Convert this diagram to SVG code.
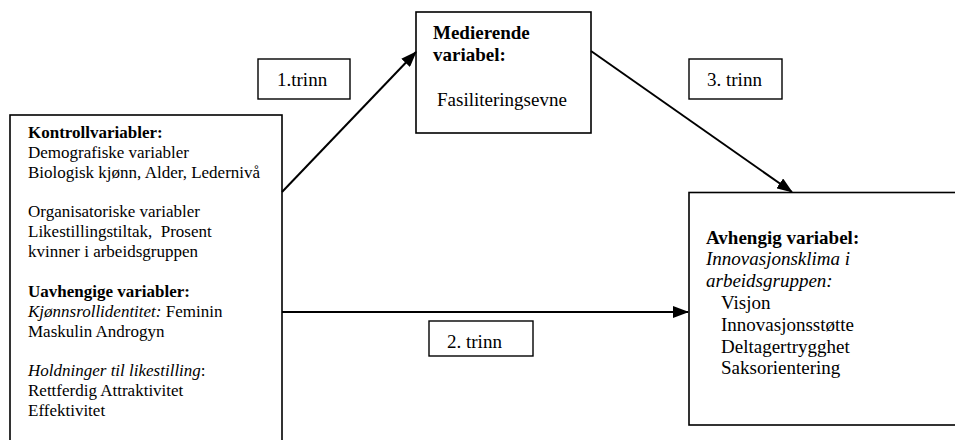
<svg xmlns="http://www.w3.org/2000/svg" width="955" height="440" viewBox="0 0 955 440">
<style>
  .box { fill: #fff; stroke: #000; stroke-width: 1.6; }
  .lbl { fill: #fff; stroke: #000; stroke-width: 1.4; }
  text { font-family: "Liberation Serif", "Times New Roman", serif; fill: #000; }
  .s17 { font-size: 17px; }
  .s19 { font-size: 19px; }
  .b { font-weight: bold; }
  .i { font-style: italic; }
  .conn { stroke: #000; stroke-width: 2; fill: none; marker-end: url(#ah); }
</style>
<defs>
  <marker id="ah" markerUnits="userSpaceOnUse" markerWidth="16" markerHeight="12" refX="15" refY="6" orient="auto">
    <path d="M0,0 L16,6 L0,12 Z" fill="#000"/>
  </marker>
</defs>
<rect width="955" height="440" fill="#fff"/>

<g id="left">
  <rect class="box" x="10" y="115" width="272" height="340"/>
  <text class="s17" x="28">
    <tspan class="b" x="28" y="138">Kontrollvariabler:</tspan>
    <tspan x="28" y="157.9">Demografiske variabler</tspan>
    <tspan x="28" y="177.7">Biologisk kjønn, Alder, Ledernivå</tspan>
    <tspan x="28" y="217.4">Organisatoriske variabler</tspan>
    <tspan x="28" y="237.3" xml:space="preserve">Likestillingstiltak,  Prosent</tspan>
    <tspan x="28" y="257.1">kvinner i arbeidsgruppen</tspan>
    <tspan class="b" x="28" y="296.8">Uavhengige variabler:</tspan>
    <tspan x="28" y="316.7"><tspan class="i">Kjønnsrollidentitet:</tspan> Feminin</tspan>
    <tspan x="28" y="336.5">Maskulin Androgyn</tspan>
    <tspan x="28" y="376.2"><tspan class="i">Holdninger til likestilling</tspan>:</tspan>
    <tspan x="28" y="396.1">Rettferdig Attraktivitet</tspan>
    <tspan x="28" y="415.9">Effektivitet</tspan>
  </text>
</g>

<g id="mediator">
  <rect class="box" x="416" y="12" width="175" height="121"/>
  <text class="s19 b" x="433" y="38.5">Medierende</text>
  <text class="s19 b" x="433" y="60.5">variabel:</text>
  <text class="s19" x="437" y="106">Fasiliteringsevne</text>
</g>

<g id="dependent">
  <rect class="box" x="689" y="192.5" width="280" height="232.5"/>
  <text class="s19" x="706">
    <tspan class="b" x="706" y="243.5">Avhengig variabel:</tspan>
    <tspan class="i" x="706" y="265.3">Innovasjonsklima i</tspan>
    <tspan class="i" x="706" y="287.1">arbeidsgruppen:</tspan>
    <tspan x="721" y="308.9">Visjon</tspan>
    <tspan x="721" y="330.7">Innovasjonsstøtte</tspan>
    <tspan x="721" y="352.5">Deltagertrygghet</tspan>
    <tspan x="721" y="374.3">Saksorientering</tspan>
  </text>
</g>

<g id="step1">
  <rect class="lbl" x="258" y="59" width="92" height="40"/>
  <text class="s19" x="277" y="86">1.trinn</text>
</g>

<g id="step3">
  <rect class="lbl" x="689" y="59" width="93" height="40"/>
  <text class="s19" x="707" y="86">3. trinn</text>
</g>

<g id="step2">
  <rect class="lbl" x="429" y="321" width="104" height="35"/>
  <text class="s19" x="447" y="348">2. trinn</text>
</g>

<g id="connectors">
  <line class="conn" x1="282" y1="192" x2="416" y2="52"/>
  <line class="conn" x1="591" y1="51" x2="792" y2="192"/>
  <line class="conn" x1="282" y1="312" x2="688" y2="312"/>
</g>
</svg>
